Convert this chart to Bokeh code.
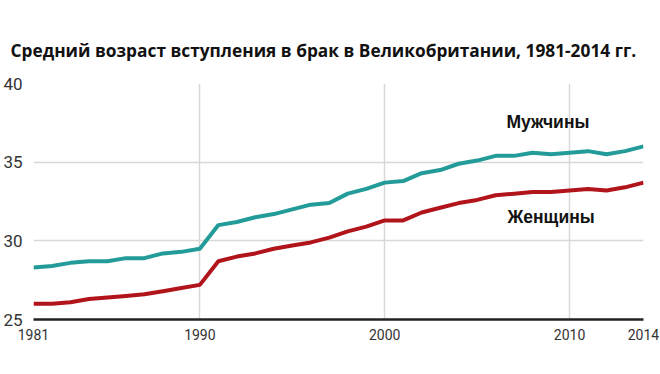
from bokeh.plotting import figure
from bokeh.models import FixedTicker, Range1d
from bokeh.core.properties import value
from bokeh.embed import file_html
from bokeh.resources import INLINE

years = list(range(1981, 2015))
men = [28.3, 28.4, 28.6, 28.7, 28.7, 28.9, 28.9, 29.2, 29.3, 29.5,
       31.0, 31.2, 31.5, 31.7, 32.0, 32.3, 32.4, 33.0, 33.3, 33.7,
       33.8, 34.3, 34.5, 34.9, 35.1, 35.4, 35.4, 35.6, 35.5, 35.6,
       35.7, 35.5, 35.7, 36.0]
women = [26.0, 26.0, 26.1, 26.3, 26.4, 26.5, 26.6, 26.8, 27.0, 27.2,
         28.7, 29.0, 29.2, 29.5, 29.7, 29.9, 30.2, 30.6, 30.9, 31.3,
         31.3, 31.8, 32.1, 32.4, 32.6, 32.9, 33.0, 33.1, 33.1, 33.2,
         33.3, 33.2, 33.4, 33.7]
x_ticks = [1981, 1990, 2000, 2010, 2014]
x_grid = [1990, 2000, 2010]
y_ticks = [25, 30, 35, 40]
title_text = "Средний возраст вступления в брак в Великобритании, 1981-2014 гг."
label_men = "Мужчины"
label_women = "Женщины"

p = figure(frame_width=610, frame_height=236, output_backend="svg", toolbar_location=None,
           x_range=Range1d(1981, 2014), y_range=Range1d(25, 40),
           min_border_left=25, min_border_right=17, min_border_top=83,
           min_border_bottom=40)
p.outline_line_color = None
p.background_fill_color = "white"

p.title.text = title_text
p.title.text_font = "Open Sans"
p.title.text_font_style = "bold"
p.title.text_font_size = "17.3px"
p.title.text_color = "#111111"
p.title.align = "left"
p.title.vertical_align = "top"
p.title.offset = -23
p.title.standoff = 40

p.line(years, men, line_color="#239b98", line_width=4)
p.line(years, women, line_color="#b2141b", line_width=4)

p.text(x=[2008.83], y=[37.57], text=[label_men], text_align="center",
       text_baseline="middle", text_font=value("Liberation Sans"),
       text_font_style="bold", text_font_size="17.5px", text_color="#111111")
p.text(x=[2009.0], y=[31.54], text=[label_women], text_align="center",
       text_baseline="middle", text_font=value("Liberation Sans"),
       text_font_style="bold", text_font_size="17.5px", text_color="#111111")

p.xaxis.ticker = FixedTicker(ticks=x_ticks)
p.xgrid.ticker = FixedTicker(ticks=x_grid)
p.yaxis.ticker = FixedTicker(ticks=y_ticks)

p.xaxis.axis_line_color = "#222222"
p.xaxis.axis_line_width = 2.5
p.xaxis.major_tick_line_color = None
p.xaxis.minor_tick_line_color = None
p.xaxis.major_label_text_font = "Roboto"
p.xaxis.major_label_text_font_size = "14px"
p.xaxis.major_label_text_color = "#333333"
p.xaxis.major_label_standoff = 3

p.yaxis.axis_line_color = None
p.yaxis.major_tick_line_color = None
p.yaxis.minor_tick_line_color = None
p.yaxis.major_label_text_font = "Roboto"
p.yaxis.major_label_text_font_size = "17px"
p.yaxis.major_label_text_color = "#333333"
p.yaxis.major_label_standoff = 5

p.xgrid.grid_line_color = "#d8d8d8"
p.xgrid.grid_line_width = 1.5
p.ygrid.grid_line_color = "#d8d8d8"
p.ygrid.grid_line_width = 1.5

open("out.html", "w").write(file_html(p, INLINE))
